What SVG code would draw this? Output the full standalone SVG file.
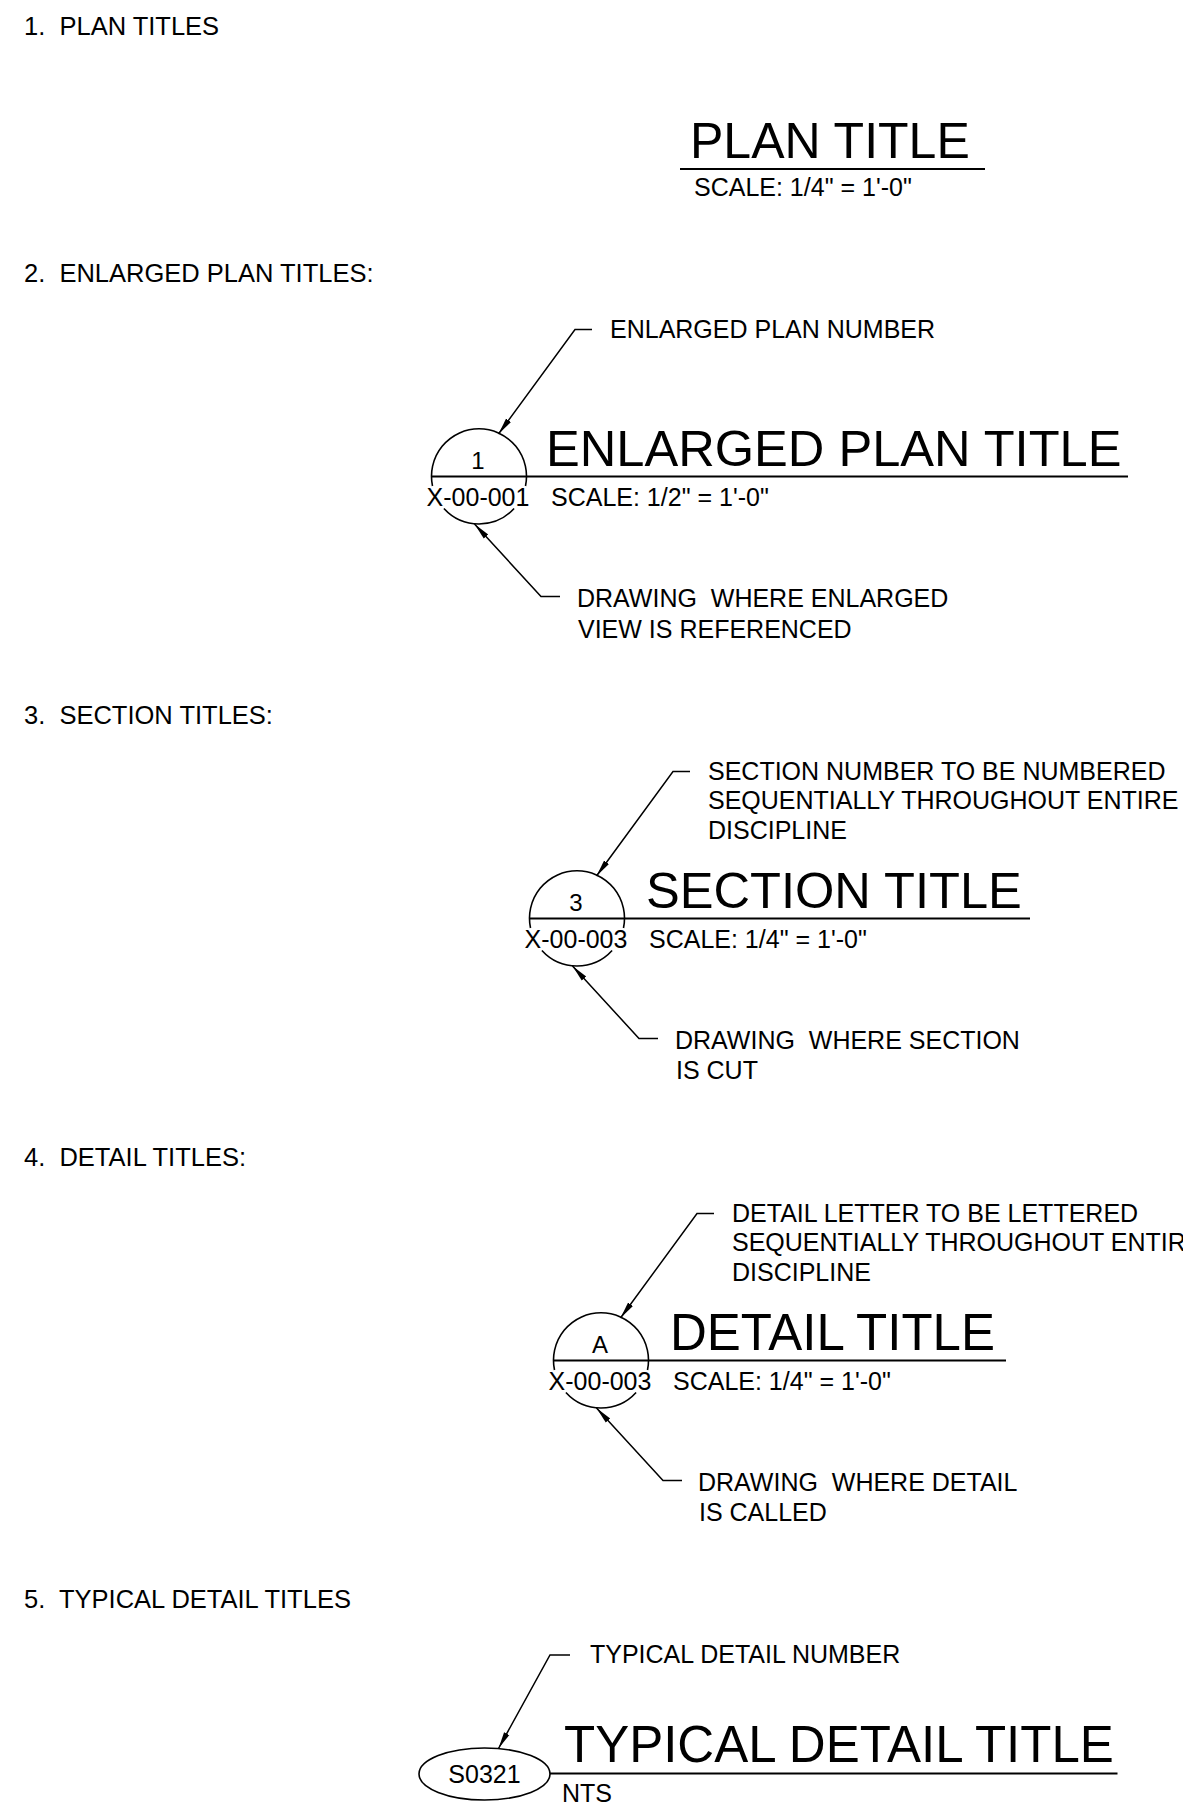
<svg xmlns="http://www.w3.org/2000/svg" width="1183" height="1813" viewBox="0 0 1183 1813" xml:space="preserve">
<defs>
<style>
text{font-family:"Liberation Sans",Arial,sans-serif;fill:#000;white-space:pre}
.h{font-size:25.5px}
.s{font-size:25px}
.t{font-size:51px}
.n{font-size:24px}
.c{text-anchor:middle}
.ul{stroke:#000;stroke-width:2;fill:none}
.sym{stroke:#000;stroke-width:1.6;fill:none}
.ld{stroke:#000;stroke-width:1.5;fill:none;marker-end:url(#ah)}
</style>
<marker id="ah" markerUnits="userSpaceOnUse" markerWidth="18" markerHeight="8" refX="17" refY="4" orient="auto" viewBox="0 0 18 8">
<path d="M0,1 L17,4 L0,7 Z" fill="#000"/>
</marker>
</defs>
<rect width="1183" height="1813" fill="#fff"/>

<g id="headers">
<text class="h" x="24" y="35">1.  PLAN TITLES</text>
<text class="h" x="24" y="282">2.  ENLARGED PLAN TITLES:</text>
<text class="h" x="24" y="724">3.  SECTION TITLES:</text>
<text class="h" x="24" y="1166">4.  DETAIL TITLES:</text>
<text class="h" x="24" y="1608">5.  TYPICAL DETAIL TITLES</text>
</g>

<g id="plan-title">
<text class="t" x="690" y="158" style="font-size:50px">PLAN TITLE</text>
<line class="ul" x1="680" y1="169" x2="985" y2="169"/>
<text class="s" x="694" y="196">SCALE: 1/4" = 1'-0"</text>
</g>

<g id="enlarged-symbol" transform="translate(479,476.5)">
<path class="sym" d="M-46.5,9.5 A47.5,47.5 0 1 1 46.5,9.5"/>
<path class="sym" d="M-35.1,32 A47.5,47.5 0 0 0 35.1,32"/>
<text class="n c" x="-1" y="-8">1</text>
<text class="s c" x="-1" y="29">X-00-001</text>
</g>
<g id="enlarged-title">
<text class="t" x="546" y="465.5" style="font-size:50.6px">ENLARGED PLAN TITLE</text>
<line class="ul" x1="431.5" y1="476.5" x2="1128" y2="476.5"/>
<text class="s" x="551" y="505.5">SCALE: 1/2" = 1'-0"</text>
</g>
<g id="enlarged-note-top">
<text class="s" x="610" y="337.5">ENLARGED PLAN NUMBER</text>
</g>
<g id="enlarged-note-bottom">
<text class="s" x="577" y="607">DRAWING  WHERE ENLARGED</text>
<text class="s" x="578" y="637.5">VIEW IS REFERENCED</text>
</g>

<g id="section-symbol" transform="translate(577,918.5)">
<path class="sym" d="M-46.5,9.5 A47.5,47.5 0 1 1 46.5,9.5"/>
<path class="sym" d="M-35.1,32 A47.5,47.5 0 0 0 35.1,32"/>
<text class="n c" x="-1" y="-8">3</text>
<text class="s c" x="-1" y="29">X-00-003</text>
</g>
<g id="section-title">
<text class="t" x="646" y="907.5" style="font-size:50.6px">SECTION TITLE</text>
<line class="ul" x1="529.5" y1="918.5" x2="1030" y2="918.5"/>
<text class="s" x="649" y="947.5">SCALE: 1/4" = 1'-0"</text>
</g>
<g id="section-note-top">
<text class="s" x="708" y="779.5">SECTION NUMBER TO BE NUMBERED</text>
<text class="s" x="708" y="809">SEQUENTIALLY THROUGHOUT ENTIRE</text>
<text class="s" x="708" y="838.5">DISCIPLINE</text>
</g>
<g id="section-note-bottom">
<text class="s" x="675" y="1048.5">DRAWING  WHERE SECTION</text>
<text class="s" x="676" y="1078.5">IS CUT</text>
</g>

<g id="detail-symbol" transform="translate(601,1360.5)">
<path class="sym" d="M-46.5,9.5 A47.5,47.5 0 1 1 46.5,9.5"/>
<path class="sym" d="M-35.1,32 A47.5,47.5 0 0 0 35.1,32"/>
<text class="n c" x="-1" y="-8">A</text>
<text class="s c" x="-1" y="29">X-00-003</text>
</g>
<g id="detail-title">
<text class="t" x="670" y="1349.5">DETAIL TITLE</text>
<line class="ul" x1="553.5" y1="1360.5" x2="1006" y2="1360.5"/>
<text class="s" x="673" y="1389.5">SCALE: 1/4" = 1'-0"</text>
</g>
<g id="detail-note-top">
<text class="s" x="732" y="1221.5">DETAIL LETTER TO BE LETTERED</text>
<text class="s" x="732" y="1251">SEQUENTIALLY THROUGHOUT ENTIRE</text>
<text class="s" x="732" y="1280.5">DISCIPLINE</text>
</g>
<g id="detail-note-bottom">
<text class="s" x="698" y="1490.5">DRAWING  WHERE DETAIL</text>
<text class="s" x="699" y="1520.5">IS CALLED</text>
</g>

<g id="typical-symbol">
<ellipse class="sym" cx="484.5" cy="1774" rx="65.5" ry="26"/>
<text class="s c" x="484.5" y="1783">S0321</text>
</g>
<g id="typical-title">
<text class="t" x="564" y="1762">TYPICAL DETAIL TITLE</text>
<line class="ul" x1="550" y1="1773.5" x2="1117.5" y2="1773.5"/>
<text class="s" x="562" y="1802">NTS</text>
</g>
<g id="typical-note">
<text class="s" x="590" y="1663">TYPICAL DETAIL NUMBER</text>
</g>

<g id="connectors">
<path class="ld" d="M592,329.5 H575 L498.5,434"/>
<path class="ld" d="M560,596.5 H541 L474.5,524"/>
<path class="ld" d="M690,771.5 H673 L596.5,876"/>
<path class="ld" d="M658,1038.5 H639 L572.5,966"/>
<path class="ld" d="M714,1213.5 H697 L620.5,1318"/>
<path class="ld" d="M682,1480.5 H663 L596.5,1408"/>
<path class="ld" d="M570,1655 H550 L498.5,1748.5"/>
</g>
</svg>
